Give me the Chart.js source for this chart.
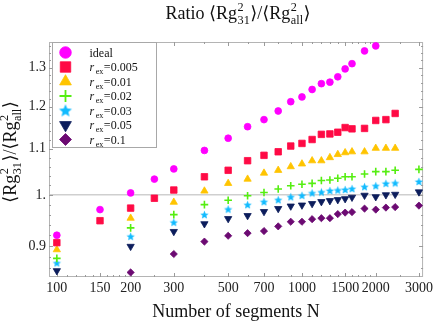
<!DOCTYPE html>
<html>
<head>
<meta charset="utf-8">
<script src="https://cdn.jsdelivr.net/npm/chart.js@4.4.1/dist/chart.umd.min.js"></script>
<style>
	html, body { margin: 0; padding: 0; background: #fff; }
	#wrap { width: 436px; height: 321px; }
</style>
</head>
<body>
<div id="wrap"><canvas id="ratioChart"></canvas></div>
<script>
// Segment counts N for each series
const nIdeal = [100, 150, 200, 250, 300, 400, 500, 600, 700, 800, 900, 1000, 1100, 1200, 1300, 1400, 1500, 1600, 1800, 2000];
const nEx005 = [100, 150, 200, 250, 300, 400, 500, 600, 700, 800, 900, 1000, 1100, 1200, 1300, 1400, 1500, 1600, 1800, 2000, 2200, 2400];
const nEx01 = [100, 200, 300, 400, 500, 600, 700, 800, 900, 1000, 1100, 1200, 1300, 1400, 1500, 1600, 1800, 2000, 2200, 2400];
const nEx = [100, 200, 300, 400, 500, 600, 700, 800, 900, 1000, 1100, 1200, 1300, 1400, 1500, 1600, 1800, 2000, 2200, 2400, 3000];
const nEx1 = [200, 300, 400, 500, 600, 700, 800, 900, 1000, 1100, 1200, 1300, 1400, 1500, 1600, 1800, 2000, 2200, 2400, 3000];

// Ratio values
const ideal = [0.920, 0.970, 1.004, 1.033, 1.055, 1.096, 1.124, 1.151, 1.168, 1.189, 1.212, 1.224, 1.243, 1.258, 1.262, 1.276, 1.297, 1.311, 1.346, 1.360];
const ex005 = [0.906, 0.948, 0.973, 0.993, 1.010, 1.038, 1.052, 1.073, 1.085, 1.093, 1.106, 1.112, 1.121, 1.133, 1.134, 1.138, 1.149, 1.146, 1.147, 1.166, 1.168, 1.183];
const ex01 = [0.893, 0.953, 0.985, 1.008, 1.024, 1.033, 1.046, 1.052, 1.060, 1.066, 1.073, 1.073, 1.080, 1.087, 1.091, 1.093, 1.093, 1.101, 1.101, 1.101];
const ex02 = [0.877, 0.934, 0.960, 0.980, 0.989, 0.998, 1.005, 1.012, 1.019, 1.022, 1.024, 1.030, 1.031, 1.035, 1.038, 1.038, 1.044, 1.049, 1.049, 1.052, 1.054];
const ex03 = [0.869, 0.918, 0.945, 0.960, 0.971, 0.980, 0.986, 0.990, 0.996, 0.999, 1.004, 1.006, 1.009, 1.010, 1.011, 1.013, 1.017, 1.019, 1.024, 1.025, 1.028];
const ex05 = [0.855, 0.899, 0.927, 0.942, 0.952, 0.958, 0.966, 0.972, 0.977, 0.979, 0.982, 0.986, 0.988, 0.990, 0.992, 0.995, 0.999, 0.996, 1.000, 1.001, 1.006];
const ex1 = [0.852, 0.885, 0.908, 0.919, 0.924, 0.928, 0.937, 0.946, 0.946, 0.951, 0.953, 0.953, 0.961, 0.964, 0.965, 0.972, 0.970, 0.974, 0.975, 0.978];

// Tick labels
const xTicks = [100, 150, 200, 300, 500, 700, 1000, 1500, 2000, 3000];
const yTicks = [0.9, 1, 1.1, 1.2, 1.3];
const legendLabels = ["ideal", "0.005", "0.01", "0.02", "0.03", "0.05", "0.1"];

const FONT = "'Liberation Serif', 'DejaVu Serif', serif";

function starImage(color, r) {
	const c = document.createElement("canvas");
	const s = Math.ceil(r * 2) + 2;
	c.width = s;
	c.height = s;
	const g = c.getContext("2d");
	g.fillStyle = color;
	g.beginPath();
	for (let i = 0; i < 10; i++) {
		const a = -Math.PI / 2 + i * Math.PI / 5;
		const rr = i % 2 ? r * 0.45 : r;
		g.lineTo(s / 2 + rr * Math.cos(a), s / 2 + rr * Math.sin(a) + 0.5);
	}
	g.closePath();
	g.fill();
	return c;
}

// marker styles
const styles = [
	{ color: "#ff00ff", style: "circle", r: 3.4, rot: 0, lr: 5.8 },
	{ color: "#ff0a45", style: "rect", r: 4.6, rot: 0, lr: 7.4 },
	{ color: "#ffc400", style: "triangle", r: 4.2, rot: 0, lr: 6.8 },
	{ color: "#55ee11", style: "cross", r: 3.8, rot: 0, lr: 6 },
	{ color: "#11bbff", style: starImage("#11bbff", 4.4), r: 4, rot: 0, lr: 6, legendStyle: starImage("#11bbff", 6.8) },
	{ color: "#0c1d5c", style: "triangle", r: 4.2, rot: 180, lr: 6.8 },
	{ color: "#6c0a72", style: "rectRot", r: 3.6, rot: 0, lr: 6 },
];

const seriesX = [nIdeal, nEx005, nEx01, nEx, nEx, nEx, nEx1];
const seriesY = [ideal, ex005, ex01, ex02, ex03, ex05, ex1];

const datasets = seriesY.map((vals, i) => ({
	label: legendLabels[i],
	data: vals.map((v, k) => ({ x: seriesX[i][k], y: v })),
	backgroundColor: styles[i].color,
	borderColor: styles[i].color,
	pointStyle: styles[i].style,
	pointRadius: styles[i].r,
	pointRotation: styles[i].rot,
	pointBorderWidth: styles[i].style === "cross" ? 1.6 : 0.8,
	showLine: false,
}));

// draws text pieces with italics and stacked super/subscripts
function partWidth(ctx, p, size) {
	if (typeof p === "string") {
		ctx.font = `${size}px ${FONT}`;
		return ctx.measureText(p).width;
	}
	if (p.it) {
		ctx.font = `italic ${size}px ${FONT}`;
		return ctx.measureText(p.it).width + 1;
	}
	ctx.font = `${size * 0.68}px ${FONT}`;
	const a = p.sup ? ctx.measureText(p.sup).width : 0;
	const b = p.sub ? ctx.measureText(p.sub).width : 0;
	return Math.max(a, b) + 1;
}

function drawParts(ctx, parts, x, y, size, align) {
	let w = 0;
	parts.forEach((p) => (w += partWidth(ctx, p, size)));
	let cx = align === "center" ? x - w / 2 : x;
	ctx.textAlign = "left";
	ctx.textBaseline = "alphabetic";
	parts.forEach((p) => {
		const pw = partWidth(ctx, p, size);
		if (typeof p === "string") {
			ctx.font = `${size}px ${FONT}`;
			ctx.fillText(p, cx, y);
		} else if (p.it) {
			ctx.font = `italic ${size}px ${FONT}`;
			ctx.fillText(p.it, cx, y);
		} else {
			ctx.font = `${size * 0.68}px ${FONT}`;
			if (p.sup) ctx.fillText(p.sup, cx + 0.5, y - size * 0.42);
			if (p.sub) ctx.fillText(p.sub, cx + 0.5, y + size * 0.26);
		}
		cx += pw;
	});
}

const ratioParts = ["\u27E8Rg", { sup: "2", sub: "31" }, "\u27E9/\u27E8Rg", { sup: "2", sub: "all" }, "\u27E9"];

const framePlugin = {
	id: "frame",
	beforeDatasetsDraw(chart) {
		const { ctx, chartArea: a, scales } = chart;
		const xs = scales.x;
		const ys = scales.y;
		ctx.save();
		// reference line at 1
		const y1 = ys.getPixelForValue(1);
		ctx.strokeStyle = "#cfcfcf";
		ctx.lineWidth = 1.5;
		ctx.beginPath();
		ctx.moveTo(a.left, y1);
		ctx.lineTo(a.right, y1);
		ctx.stroke();

		ctx.strokeStyle = "#b4b4b4";
		ctx.lineWidth = 1;
		ctx.strokeRect(a.left + 0.5, a.top + 0.5, a.right - a.left - 1, a.bottom - a.top - 1);

		ctx.strokeStyle = "#9a9a9a";
		const xMinor = [];
		for (let v = 110; v < 200; v += 10) xMinor.push(v);
		[250, 400, 600, 800, 900, 1100, 1200, 1300, 1400, 1600, 1700, 1800, 1900, 2500].forEach((v) => xMinor.push(v));
		ctx.beginPath();
		xTicks.concat(xMinor).forEach((v) => {
			const len = xTicks.includes(v) ? 4 : 2;
			const px = Math.round(xs.getPixelForValue(v)) + 0.5;
			ctx.moveTo(px, a.bottom);
			ctx.lineTo(px, a.bottom - len);
			ctx.moveTo(px, a.top);
			ctx.lineTo(px, a.top + len);
		});
		for (let v = 0.86; v < 1.37; v += 0.02) {
			const val = Math.round(v * 100) / 100;
			const major = yTicks.some((t) => Math.abs(t - val) < 1e-6);
			const len = major ? 4 : 2;
			const py = Math.round(ys.getPixelForValue(val)) + 0.5;
			ctx.moveTo(a.left, py);
			ctx.lineTo(a.left + len, py);
			ctx.moveTo(a.right, py);
			ctx.lineTo(a.right - len, py);
		}
		ctx.stroke();
		ctx.restore();
	},
	afterDatasetsDraw(chart) {
		const { ctx, chartArea: a } = chart;
		ctx.save();
		// legend box
		const bx = a.left + 3.5;
		const by = a.top + 0.5;
		ctx.fillStyle = "#fff";
		ctx.fillRect(bx, by, 104, 105);
		ctx.strokeStyle = "#a8a8a8";
		ctx.lineWidth = 1;
		ctx.strokeRect(bx, by, 104, 105);
		legendLabels.forEach((lab, i) => {
			const s = styles[i];
			const y = by + 10 + i * 14.5;
			ctx.fillStyle = s.color;
			ctx.strokeStyle = s.color;
			if (s.style === "cross") {
				ctx.lineWidth = 1.8;
				ctx.beginPath();
				ctx.moveTo(bx + 13 - s.lr, y);
				ctx.lineTo(bx + 13 + s.lr, y);
				ctx.moveTo(bx + 13, y - s.lr);
				ctx.lineTo(bx + 13, y + s.lr);
				ctx.stroke();
			} else {
				ctx.lineWidth = 0.8;
				Chart.helpers.drawPoint(ctx, {
					pointStyle: s.legendStyle || s.style,
					radius: s.lr,
					rotation: s.rot,
					borderWidth: 0.8,
				}, bx + 13, y);
			}
			ctx.fillStyle = "#111";
			const parts = i === 0 ? [lab] : [{ it: "r" }, { sub: "ex" }, "=" + lab];
			drawParts(ctx, parts, bx + 37, y + 4, 12, "left");
		});
		ctx.restore();
	},
	afterDraw(chart) {
		const { ctx, chartArea: a } = chart;
		ctx.save();
		ctx.fillStyle = "#111";
		drawParts(ctx, ["Ratio "].concat(ratioParts), (a.left + a.right) / 2 + 2, 19, 18, "center");
		drawParts(ctx, ["Number of segments N"], (a.left + a.right) / 2, 317, 18, "center");
		ctx.translate(16, 152);
		ctx.rotate(-Math.PI / 2);
		drawParts(ctx, ratioParts, 0, 0, 18, "center");
		ctx.restore();
	},
};

const ctx = document.getElementById("ratioChart");

new Chart(ctx, {
	type: "scatter",
	data: { datasets: datasets },
	options: {
		responsive: true,
		maintainAspectRatio: false,
		animation: false,
		layout: { padding: { left: 0, right: 7, top: 42, bottom: 0 } },
		plugins: {
			legend: { display: false },
			tooltip: { enabled: false },
		},
		scales: {
			x: {
				type: "logarithmic",
				min: 92.9,
				max: 3119,
				bounds: "data",
				grid: { display: false, drawTicks: false },
				border: { display: false },
				afterBuildTicks: (s) => {
					s.ticks = xTicks.map((v) => ({ value: v }));
				},
				afterFit: (s) => {
					s.height = 44;
				},
				ticks: {
					autoSkip: false,
					maxRotation: 0,
					padding: 3,
					color: "#222",
					font: { family: FONT, size: 14 },
					callback: (v) => String(v),
				},
			},
			y: {
				type: "logarithmic",
				min: 0.844,
				max: 1.371,
				bounds: "data",
				grid: { display: false, drawTicks: false },
				border: { display: false },
				afterBuildTicks: (s) => {
					s.ticks = yTicks.map((v) => ({ value: v }));
				},
				afterFit: (s) => {
					s.width = 49;
				},
				ticks: {
					autoSkip: false,
					padding: 3,
					color: "#222",
					font: { family: FONT, size: 14 },
					callback: (v) => (v === 1 ? "1." : String(v)),
				},
			},
		},
	},
	plugins: [framePlugin],
});
</script>
</body>
</html>
